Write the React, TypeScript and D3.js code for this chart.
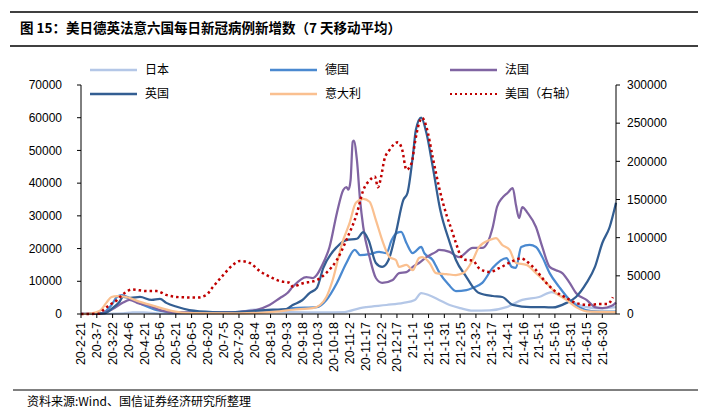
import React from 'react';
import * as d3 from 'd3';

// ---------- data ----------
const xTickLabels = [
  '20-2-21', '20-3-7', '20-3-22', '20-4-6', '20-4-21', '20-5-6', '20-5-21', '20-6-5', '20-6-20',
  '20-7-5', '20-7-20', '20-8-4', '20-8-19', '20-9-3', '20-9-18', '20-10-3', '20-10-18', '20-11-2',
  '20-11-17', '20-12-2', '20-12-17', '21-1-1', '21-1-16', '21-1-31', '21-2-15', '21-3-2', '21-3-17',
  '21-4-1', '21-4-16', '21-5-1', '21-5-16', '21-5-31', '21-6-15', '21-6-30',
];
const xDomainLabels = ['20-2-21', '21-7-13'];
const leftTicks = [0, 10000, 20000, 30000, 40000, 50000, 60000, 70000];
const rightTicks = [0, 50000, 100000, 150000, 200000, 250000, 300000];

const japanData: [string, number][] = [
  ['20-2-21', 0], ['20-4-1', 200], ['20-4-10', 500], ['20-4-20', 500], ['20-5-10', 100], ['20-6-19', 100],
  ['20-7-19', 500], ['20-8-4', 1300], ['20-8-14', 1100], ['20-9-8', 600], ['20-10-8', 500], ['20-10-28', 600],
  ['20-11-12', 1800], ['20-11-18', 2100], ['20-12-7', 2750], ['20-12-23', 3400], ['21-1-3', 4300], ['21-1-9', 6400],
  ['21-1-16', 5800], ['21-1-26', 4300], ['21-2-5', 2750], ['21-2-15', 1800], ['21-2-27', 1000], ['21-3-15', 1100],
  ['21-3-31', 2100], ['21-4-15', 4300], ['21-5-1', 5200], ['21-5-13', 6700], ['21-5-20', 5800], ['21-6-1', 3700],
  ['21-6-15', 2100], ['21-6-27', 1700], ['21-7-13', 2100],
];

const germanyData: [string, number][] = [
  ['20-2-21', 0], ['20-3-12', 300], ['20-3-21', 2750], ['20-3-26', 5200], ['20-3-31', 5800], ['20-4-7', 4900],
  ['20-4-20', 2750], ['20-5-3', 1200], ['20-5-25', 400], ['20-6-30', 400], ['20-8-2', 800], ['20-8-29', 1300],
  ['20-9-9', 1800], ['20-10-2', 2100], ['20-10-11', 4300], ['20-10-21', 9500], ['20-10-30', 15600], ['20-11-7', 19600],
  ['20-11-12', 18000], ['20-11-21', 18300], ['20-11-30', 19000], ['20-12-7', 18600], ['20-12-12', 22600],
  ['20-12-17', 24800], ['20-12-21', 25100], ['20-12-26', 21700], ['21-1-1', 18600], ['21-1-9', 20500],
  ['21-1-12', 18600], ['21-1-20', 16500], ['21-1-26', 12800], ['21-2-4', 9000], ['21-2-11', 7000], ['21-2-21', 7300],
  ['21-2-27', 8000], ['21-3-8', 9500], ['21-3-18', 14100], ['21-3-31', 17100], ['21-4-5', 14400], ['21-4-9', 14100],
  ['21-4-14', 20500], ['21-4-22', 21100], ['21-4-28', 20500], ['21-5-4', 17400], ['21-5-11', 12500], ['21-5-20', 8300],
  ['21-5-30', 4300], ['21-6-8', 2100], ['21-6-20', 900], ['21-7-13', 700],
];

const franceData: [string, number][] = [
  ['20-2-21', 0], ['20-3-12', 300], ['20-3-22', 1500], ['20-4-1', 3500], ['20-4-7', 4300], ['20-4-16', 3200],
  ['20-4-24', 2750], ['20-5-6', 1200], ['20-5-21', 500], ['20-7-10', 500], ['20-7-25', 800], ['20-8-6', 1300],
  ['20-8-18', 2750], ['20-8-28', 4900], ['20-9-4', 6400], ['20-9-9', 8300], ['20-9-22', 11300], ['20-9-28', 11000],
  ['20-10-8', 15600], ['20-10-14', 20500], ['20-10-21', 30900], ['20-10-27', 37900], ['20-10-30', 38800],
  ['20-11-1', 38000], ['20-11-3', 41000], ['20-11-5', 52600], ['20-11-6', 53000], ['20-11-9', 47000],
  ['20-11-12', 34800], ['20-11-15', 26600], ['20-11-21', 17400], ['20-11-27', 11000], ['20-12-3', 9500],
  ['20-12-13', 10400], ['20-12-19', 12500], ['20-12-26', 12800], ['21-1-1', 14400], ['21-1-7', 15600],
  ['21-1-14', 17400], ['21-1-23', 19000], ['21-1-26', 19600], ['21-2-5', 19000], ['21-2-14', 17400],
  ['21-2-27', 20200], ['21-3-8', 20200], ['21-3-18', 26600], ['21-3-22', 32700], ['21-3-27', 35500],
  ['21-4-1', 37000], ['21-4-6', 38500], ['21-4-9', 33300], ['21-4-12', 29300], ['21-4-15', 32700],
  ['21-4-20', 30900], ['21-4-28', 26600], ['21-5-4', 20500], ['21-5-11', 14400], ['21-5-17', 13400],
  ['21-5-23', 12500], ['21-5-30', 9500], ['21-6-5', 6400], ['21-6-15', 4300], ['21-6-24', 2000], ['21-6-30', 1800],
  ['21-7-9', 2500], ['21-7-13', 3500],
];

const ukData: [string, number][] = [
  ['20-2-21', 0], ['20-3-14', 200], ['20-3-22', 1800], ['20-3-28', 3500], ['20-4-1', 5200], ['20-4-8', 4900],
  ['20-4-17', 5200], ['20-4-28', 4300], ['20-5-6', 4600], ['20-5-12', 3400], ['20-5-22', 2200], ['20-6-3', 1200],
  ['20-6-25', 600], ['20-7-10', 500], ['20-8-2', 900], ['20-8-21', 1300], ['20-9-3', 1500], ['20-9-9', 2750],
  ['20-9-18', 4200], ['20-9-25', 6400], ['20-10-2', 8000], ['20-10-8', 14000], ['20-10-21', 20500],
  ['20-10-30', 22600], ['20-11-9', 23000], ['20-11-15', 25000], ['20-11-20', 22600], ['20-11-27', 15600],
  ['20-12-3', 14400], ['20-12-9', 16500], ['20-12-16', 24800], ['20-12-23', 34800], ['20-12-27', 37000],
  ['21-1-1', 48000], ['21-1-4', 56300], ['21-1-9', 60000], ['21-1-14', 55300], ['21-1-20', 45000],
  ['21-1-27', 32000], ['21-2-5', 22000], ['21-2-11', 16500], ['21-2-21', 11300], ['21-2-27', 8300],
  ['21-3-5', 6400], ['21-3-18', 5500], ['21-3-27', 5200], ['21-4-6', 2800], ['21-4-23', 2100], ['21-5-6', 2100],
  ['21-5-14', 2000], ['21-5-27', 3400], ['21-6-5', 5200], ['21-6-15', 9500], ['21-6-23', 14400],
  ['21-6-30', 21700], ['21-7-7', 26600], ['21-7-13', 34000],
];

const italyData: [string, number][] = [
  ['20-2-21', 0], ['20-3-2', 200], ['20-3-10', 1000], ['20-3-16', 3400], ['20-3-21', 5200], ['20-3-26', 5500],
  ['20-4-4', 5200], ['20-4-17', 3700], ['20-5-3', 2200], ['20-5-18', 900], ['20-6-3', 300], ['20-7-20', 200],
  ['20-8-11', 400], ['20-8-24', 700], ['20-9-9', 1300], ['20-9-28', 1800], ['20-10-5', 2750], ['20-10-11', 5200],
  ['20-10-17', 10400], ['20-10-26', 21700], ['20-11-2', 27800], ['20-11-8', 34000], ['20-11-15', 35200],
  ['20-11-21', 34300], ['20-11-27', 28700], ['20-12-3', 22600], ['20-12-10', 17400], ['20-12-16', 16500],
  ['20-12-19', 14400], ['20-12-26', 15000], ['21-1-1', 13400], ['21-1-7', 17100], ['21-1-10', 17400],
  ['21-1-17', 15600], ['21-1-23', 12500], ['21-2-2', 12200], ['21-2-11', 11900], ['21-2-18', 12500],
  ['21-2-27', 16500], ['21-3-5', 20500], ['21-3-15', 22600], ['21-3-21', 23200], ['21-3-27', 21100],
  ['21-4-3', 19600], ['21-4-9', 15600], ['21-4-19', 15000], ['21-4-28', 12500], ['21-5-8', 9500],
  ['21-5-17', 6400], ['21-5-27', 4300], ['21-6-5', 2100], ['21-6-18', 700], ['21-7-13', 600],
];

const usData: [string, number][] = [
  ['20-2-21', 0], ['20-3-9', 300], ['20-3-13', 5000], ['20-3-19', 11800], ['20-3-26', 18000], ['20-3-31', 25000],
  ['20-4-4', 29000], ['20-4-9', 32000], ['20-4-24', 30000], ['20-5-3', 30000], ['20-5-12', 25000],
  ['20-5-25', 22000], ['20-6-10', 21500], ['20-6-19', 25000], ['20-6-25', 35000], ['20-7-5', 51000],
  ['20-7-14', 64000], ['20-7-21', 69500], ['20-7-30', 67000], ['20-8-9', 56000], ['20-8-21', 47000],
  ['20-8-28', 43000], ['20-9-6', 41000], ['20-9-9', 36000], ['20-9-18', 40000], ['20-10-2', 44500],
  ['20-10-11', 54000], ['20-10-21', 71000], ['20-10-30', 97000], ['20-11-9', 132000], ['20-11-15', 162000],
  ['20-11-21', 175000], ['20-11-26', 180000], ['20-11-29', 166000], ['20-12-2', 180000], ['20-12-5', 202000],
  ['20-12-10', 215000], ['20-12-18', 225000], ['20-12-22', 215000], ['20-12-26', 189000], ['20-12-31', 198000],
  ['21-1-3', 224000], ['21-1-7', 250000], ['21-1-10', 257000], ['21-1-14', 245000], ['21-1-20', 205000],
  ['21-1-23', 185000], ['21-1-26', 166000], ['21-2-2', 130000], ['21-2-7', 110000], ['21-2-11', 93000],
  ['21-2-16', 75000], ['21-2-20', 71000], ['21-2-27', 70000], ['21-3-5', 60000], ['21-3-15', 55000],
  ['21-3-24', 60000], ['21-4-4', 68000], ['21-4-14', 73000], ['21-4-20', 68000], ['21-4-28', 57600],
  ['21-5-7', 42000], ['21-5-17', 29000], ['21-5-27', 21000], ['21-6-5', 14400], ['21-6-18', 11800],
  ['21-6-27', 13000], ['21-7-5', 13000], ['21-7-10', 22000],
];

const seriesNames = ['日本', '德国', '法国', '英国', '意大利', '美国（右轴）'];
const seriesColors = ['#B4C7E7', '#4A89D0', '#8064A2', '#335E92', '#FAC090', '#C00000'];

// ---------- layout ----------
const W = 706;
const H = 416;
const plot = { left: 81, right: 616, top: 85, bottom: 314 };
const FONT_CJK = '"Noto Sans CJK SC", "Noto Sans", sans-serif';
const FONT_NUM = '"Liberation Sans", Arial, sans-serif';

const parse = d3.timeParse('%y-%m-%d');

export default function App() {
  const x = d3
    .scaleTime()
    .domain(xDomainLabels.map((s) => parse(s) as Date))
    .range([plot.left, plot.right]);
  const yL = d3.scaleLinear().domain([0, 70000]).range([plot.bottom, plot.top]);
  const yR = d3.scaleLinear().domain([0, 300000]).range([plot.bottom, plot.top]);

  const mkLine = (y: d3.ScaleLinear<number, number>) =>
    d3
      .line<[string, number]>()
      .x((d) => x(parse(d[0]) as Date))
      .y((d) => y(d[1]))
      .curve(d3.curveMonotoneX);

  const lineL = mkLine(yL);
  const lineR = mkLine(yR);

  const series = [
    { data: japanData, color: seriesColors[0] },
    { data: germanyData, color: seriesColors[1] },
    { data: franceData, color: seriesColors[2] },
    { data: ukData, color: seriesColors[3] },
    { data: italyData, color: seriesColors[4] },
  ];

  const legendItems = [
    { name: seriesNames[0], color: seriesColors[0], lx: 90, ly: 70, dotted: false },
    { name: seriesNames[1], color: seriesColors[1], lx: 270, ly: 70, dotted: false },
    { name: seriesNames[2], color: seriesColors[2], lx: 450, ly: 70, dotted: false },
    { name: seriesNames[3], color: seriesColors[3], lx: 90, ly: 94, dotted: false },
    { name: seriesNames[4], color: seriesColors[4], lx: 270, ly: 94, dotted: false },
    { name: seriesNames[5], color: seriesColors[5], lx: 450, ly: 94, dotted: true },
  ];

  return (
    <svg
      width={W}
      height={H}
      viewBox={`0 0 ${W} ${H}`}
      style={{ position: 'absolute', left: 0, top: 0, background: '#fff' }}
    >
      <rect x={0} y={0} width={W} height={H} fill="#fff" />
      {/* title */}
      <line x1={10} x2={698} y1={12} y2={12} stroke="#000" strokeWidth={1.5} />
      <line x1={10} x2={698} y1={46} y2={46} stroke="#000" strokeWidth={1.5} />
      <text x={20} y={33} fontFamily={FONT_CJK} fontSize={13.5} fontWeight="bold" fill="#000">
        图 15：美日德英法意六国每日新冠病例新增数（7 天移动平均）
      </text>

      {/* series */}
      {series.map((s, i) => (
        <path
          key={i}
          d={lineL(s.data) || ''}
          fill="none"
          stroke={s.color}
          strokeWidth={2.25}
          strokeLinejoin="round"
        />
      ))}
      <path
        d={lineR(usData) || ''}
        fill="none"
        stroke={seriesColors[5]}
        strokeWidth={2.5}
        strokeDasharray="2.5 3"
      />

      {/* left axis */}
      <line x1={plot.left} x2={plot.left} y1={plot.top} y2={plot.bottom} stroke="#000" strokeWidth={1} />
      {leftTicks.map((t) => (
        <g key={'l' + t}>
          <line x1={plot.left - 4} x2={plot.left} y1={yL(t)} y2={yL(t)} stroke="#000" />
          <text
            x={plot.left - 19}
            y={yL(t)}
            dy="0.35em"
            textAnchor="end"
            fontFamily={FONT_NUM}
            fontSize={12}
            fill="#000"
          >
            {t}
          </text>
        </g>
      ))}

      {/* right axis */}
      <line x1={plot.right} x2={plot.right} y1={plot.top} y2={plot.bottom} stroke="#000" strokeWidth={1} />
      {rightTicks.map((t) => (
        <g key={'r' + t}>
          <line x1={plot.right} x2={plot.right + 4} y1={yR(t)} y2={yR(t)} stroke="#000" />
          <text
            x={plot.right + 11}
            y={yR(t)}
            dy="0.35em"
            textAnchor="start"
            fontFamily={FONT_NUM}
            fontSize={12}
            fill="#000"
          >
            {t}
          </text>
        </g>
      ))}

      {/* x axis */}
      <line x1={plot.left} x2={plot.right} y1={plot.bottom} y2={plot.bottom} stroke="#000" strokeWidth={1} />
      {xTickLabels.map((lab) => {
        const px = x(parse(lab) as Date);
        return (
          <g key={lab}>
            <line x1={px} x2={px} y1={plot.bottom} y2={plot.bottom + 4} stroke="#000" />
            <text
              transform={`translate(${px},${plot.bottom + 8}) rotate(-90)`}
              dy="0.35em"
              textAnchor="end"
              fontFamily={FONT_NUM}
              fontSize={12.5}
              fill="#000"
            >
              {lab}
            </text>
          </g>
        );
      })}

      {/* legend */}
      {legendItems.map((it) => (
        <g key={it.name}>
          <line
            x1={it.lx}
            x2={it.lx + 47}
            y1={it.ly}
            y2={it.ly}
            stroke={it.color}
            strokeWidth={it.dotted ? 2 : 2.5}
            strokeDasharray={it.dotted ? '2 3' : undefined}
          />
          <text x={it.lx + 55} y={it.ly} dy="0.36em" fontFamily={FONT_CJK} fontSize={12} fill="#000">
            {it.name}
          </text>
        </g>
      ))}

      {/* footer */}
      <line x1={13} x2={698} y1={390} y2={390} stroke="#000" strokeWidth={1} />
      <text x={27} y={402} dy="0.35em" fontFamily={FONT_CJK} fontSize={12} fill="#000">
        资料来源:Wind、国信证券经济研究所整理
      </text>
    </svg>
  );
}
